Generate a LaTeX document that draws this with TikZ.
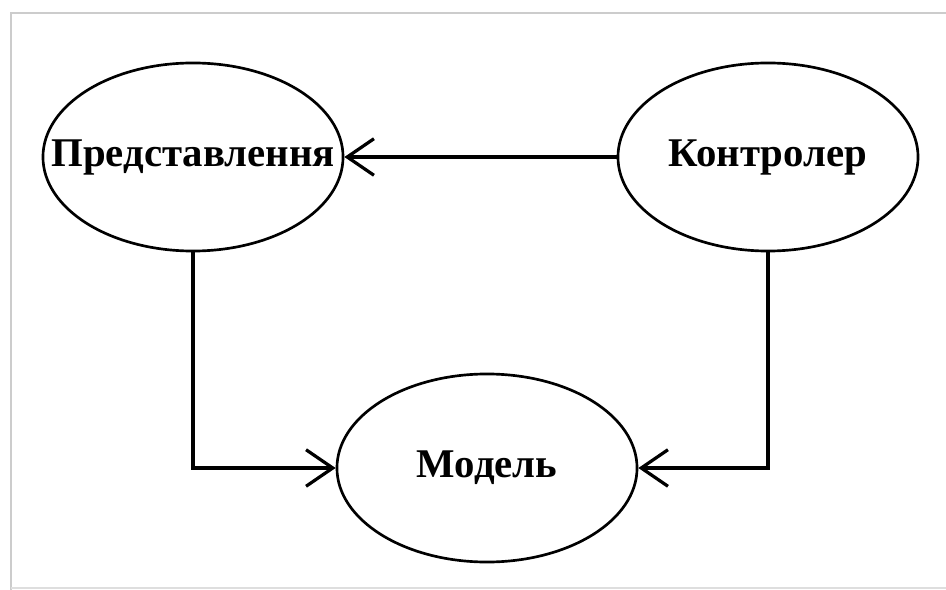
\documentclass[tikz,border=0pt]{standalone}
\usepackage{fontspec}
\setmainfont{Liberation Serif}
\usetikzlibrary{arrows.meta,shapes.geometric}
\tikzset{
  part/.style={draw, ellipse, line width=1.9pt, minimum width=7.5cm, minimum height=4.7cm, inner sep=0pt},
  link/.style={line width=2.3pt, -{Straight Barb[length=19pt,width=26pt]}},
  every label/.style={font=\fontsize{29}{32}\selectfont\bfseries, inner sep=0pt}
}

\begin{document}
\begin{tikzpicture}[x=0.025cm, y=-0.025cm]
	%%%%% START %%%%%
	
	\useasboundingbox (0,0) rectangle (946,590);
	\draw[line width=1.5pt, color=black!20] (11,590) -- (11,13) -- (946,13);
	\draw[line width=1.2pt, color=black!13] (11,588) -- (946,588);
	
	\node[part, label={center:Представлення}] (view) at (193,157) {};
	\node[part, label={center:Контролер}] (ctrl) at (768,157) {};
	\node[part, label={center:Модель}] (model) at (487,468) {};
	
	\draw[link] (ctrl) -- (view);
	\draw[link] (view.south) |- (model.west);
	\draw[link] (ctrl.south) |- (model.east);
	
	%%%%% END %%%%%
\end{tikzpicture}
\end{document}
